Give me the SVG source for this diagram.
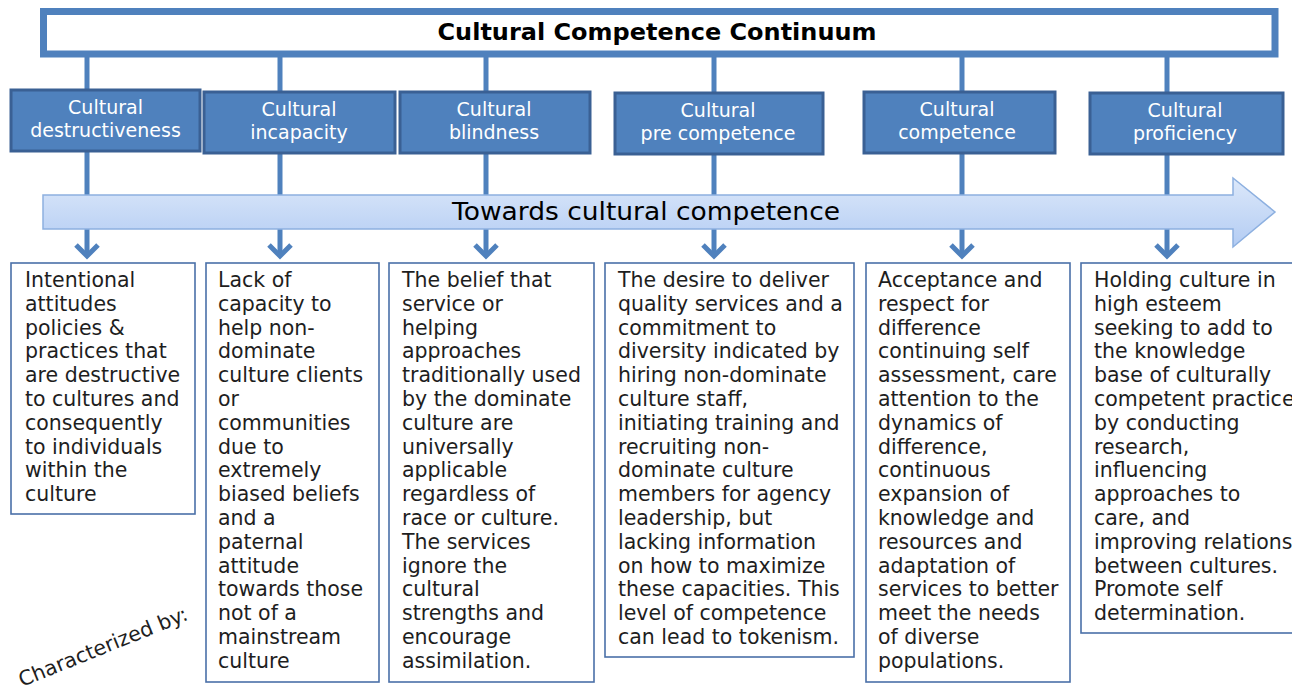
<svg xmlns="http://www.w3.org/2000/svg" width="1292" height="693" viewBox="0 0 1292 693">
<style>
text{font-family:"DejaVu Sans","Liberation Sans",sans-serif}
.conn{stroke:#4F81BD;stroke-width:5;fill:none}
.stage rect{fill:#4F81BD;stroke:#3A6094;stroke-width:3}
.stage text{fill:#FFFFFF;font-size:19px;text-anchor:middle}
.desc rect{fill:#FFFFFF;stroke:#4A70A8;stroke-width:1.6}
.desc text{fill:#1E1E1E;font-size:20.5px}
</style>
<defs>
<linearGradient id="ag" x1="0" y1="0" x2="0" y2="1">
<stop offset="0" stop-color="#DCE8FA"/>
<stop offset="1" stop-color="#B3CCF3"/>
</linearGradient>
<marker id="chev" markerUnits="userSpaceOnUse" markerWidth="30" markerHeight="30" refX="0" refY="0" orient="auto" overflow="visible">
<path d="M-11,-11 L0,0 L-11,11" fill="none" stroke="#4F81BD" stroke-width="5"/>
</marker>
</defs>
<rect width="1292" height="693" fill="#FFFFFF"/>

<g id="connectors">
<line class="conn" x1="87" y1="55" x2="87" y2="256" marker-end="url(#chev)"/>
<line class="conn" x1="280" y1="55" x2="280" y2="256" marker-end="url(#chev)"/>
<line class="conn" x1="486" y1="55" x2="486" y2="256" marker-end="url(#chev)"/>
<line class="conn" x1="714" y1="55" x2="714" y2="256" marker-end="url(#chev)"/>
<line class="conn" x1="962" y1="55" x2="962" y2="256" marker-end="url(#chev)"/>
<line class="conn" x1="1167" y1="55" x2="1167" y2="256" marker-end="url(#chev)"/>
</g>

<g id="title">
<rect x="43.5" y="11.5" width="1231.5" height="42.5" fill="#FFFFFF" stroke="#4F81BD" stroke-width="7"/>
<text x="657" y="40" font-size="23" font-weight="bold" fill="#000000" text-anchor="middle" textLength="439" lengthAdjust="spacingAndGlyphs">Cultural Competence Continuum</text>
</g>

<g id="arrow">
<path d="M43,195 H1233 V178 L1275,212 L1233,247 V229 H43 Z" fill="url(#ag)" stroke="#8DB0E0" stroke-width="1.5"/>
<text x="646" y="220" font-size="24" fill="#000000" text-anchor="middle" textLength="388" lengthAdjust="spacingAndGlyphs">Towards cultural competence</text>
</g>

<g id="stage1" class="stage"><rect x="11" y="90" width="189" height="61"/><text x="105.5" y="114">Cultural</text><text x="105.5" y="137">destructiveness</text></g>
<g id="stage2" class="stage"><rect x="204" y="92" width="191" height="61"/><text x="299" y="116">Cultural</text><text x="299" y="139">incapacity</text></g>
<g id="stage3" class="stage"><rect x="400" y="92" width="190" height="61"/><text x="494" y="116">Cultural</text><text x="494" y="139">blindness</text></g>
<g id="stage4" class="stage"><rect x="615" y="93" width="208" height="61"/><text x="718" y="117">Cultural</text><text x="718" y="140">pre competence</text></g>
<g id="stage5" class="stage"><rect x="864" y="92" width="191" height="61"/><text x="957" y="116">Cultural</text><text x="957" y="139">competence</text></g>
<g id="stage6" class="stage"><rect x="1090" y="93" width="193" height="61"/><text x="1185" y="117">Cultural</text><text x="1185" y="140">proficiency</text></g>

<g id="desc1" class="desc"><rect x="11" y="263" width="184" height="251"/>
<text x="25" y="287"><tspan x="25">Intentional</tspan><tspan x="25" dy="23.8">attitudes</tspan><tspan x="25" dy="23.8">policies &amp;</tspan><tspan x="25" dy="23.8">practices that</tspan><tspan x="25" dy="23.8">are destructive</tspan><tspan x="25" dy="23.8">to cultures and</tspan><tspan x="25" dy="23.8">consequently</tspan><tspan x="25" dy="23.8">to individuals</tspan><tspan x="25" dy="23.8">within the</tspan><tspan x="25" dy="23.8">culture</tspan></text></g>

<g id="desc2" class="desc"><rect x="206" y="263" width="173" height="419"/>
<text x="218" y="287"><tspan x="218">Lack of</tspan><tspan x="218" dy="23.8">capacity to</tspan><tspan x="218" dy="23.8">help non-</tspan><tspan x="218" dy="23.8">dominate</tspan><tspan x="218" dy="23.8">culture clients</tspan><tspan x="218" dy="23.8">or</tspan><tspan x="218" dy="23.8">communities</tspan><tspan x="218" dy="23.8">due to</tspan><tspan x="218" dy="23.8">extremely</tspan><tspan x="218" dy="23.8">biased beliefs</tspan><tspan x="218" dy="23.8">and a</tspan><tspan x="218" dy="23.8">paternal</tspan><tspan x="218" dy="23.8">attitude</tspan><tspan x="218" dy="23.8">towards those</tspan><tspan x="218" dy="23.8">not of a</tspan><tspan x="218" dy="23.8">mainstream</tspan><tspan x="218" dy="23.8">culture</tspan></text></g>

<g id="desc3" class="desc"><rect x="389" y="263" width="205" height="419"/>
<text x="402" y="287"><tspan x="402">The belief that</tspan><tspan x="402" dy="23.8">service or</tspan><tspan x="402" dy="23.8">helping</tspan><tspan x="402" dy="23.8">approaches</tspan><tspan x="402" dy="23.8">traditionally used</tspan><tspan x="402" dy="23.8">by the dominate</tspan><tspan x="402" dy="23.8">culture are</tspan><tspan x="402" dy="23.8">universally</tspan><tspan x="402" dy="23.8">applicable</tspan><tspan x="402" dy="23.8">regardless of</tspan><tspan x="402" dy="23.8">race or culture.</tspan><tspan x="402" dy="23.8">The services</tspan><tspan x="402" dy="23.8">ignore the</tspan><tspan x="402" dy="23.8">cultural</tspan><tspan x="402" dy="23.8">strengths and</tspan><tspan x="402" dy="23.8">encourage</tspan><tspan x="402" dy="23.8">assimilation.</tspan></text></g>

<g id="desc4" class="desc"><rect x="605" y="263" width="249" height="394"/>
<text x="618" y="287"><tspan x="618">The desire to deliver</tspan><tspan x="618" dy="23.8">quality services and a</tspan><tspan x="618" dy="23.8">commitment to</tspan><tspan x="618" dy="23.8">diversity indicated by</tspan><tspan x="618" dy="23.8">hiring non-dominate</tspan><tspan x="618" dy="23.8">culture staff,</tspan><tspan x="618" dy="23.8">initiating training and</tspan><tspan x="618" dy="23.8">recruiting non-</tspan><tspan x="618" dy="23.8">dominate culture</tspan><tspan x="618" dy="23.8">members for agency</tspan><tspan x="618" dy="23.8">leadership, but</tspan><tspan x="618" dy="23.8">lacking information</tspan><tspan x="618" dy="23.8">on how to maximize</tspan><tspan x="618" dy="23.8">these capacities. This</tspan><tspan x="618" dy="23.8">level of competence</tspan><tspan x="618" dy="23.8">can lead to tokenism.</tspan></text></g>

<g id="desc5" class="desc"><rect x="866" y="263" width="204" height="419"/>
<text x="878" y="287"><tspan x="878">Acceptance and</tspan><tspan x="878" dy="23.8">respect for</tspan><tspan x="878" dy="23.8">difference</tspan><tspan x="878" dy="23.8">continuing self</tspan><tspan x="878" dy="23.8">assessment, care</tspan><tspan x="878" dy="23.8">attention to the</tspan><tspan x="878" dy="23.8">dynamics of</tspan><tspan x="878" dy="23.8">difference,</tspan><tspan x="878" dy="23.8">continuous</tspan><tspan x="878" dy="23.8">expansion of</tspan><tspan x="878" dy="23.8">knowledge and</tspan><tspan x="878" dy="23.8">resources and</tspan><tspan x="878" dy="23.8">adaptation of</tspan><tspan x="878" dy="23.8">services to better</tspan><tspan x="878" dy="23.8">meet the needs</tspan><tspan x="878" dy="23.8">of diverse</tspan><tspan x="878" dy="23.8">populations.</tspan></text></g>

<g id="desc6" class="desc"><rect x="1081" y="263" width="220" height="370"/>
<text x="1094" y="287"><tspan x="1094">Holding culture in</tspan><tspan x="1094" dy="23.8">high esteem</tspan><tspan x="1094" dy="23.8">seeking to add to</tspan><tspan x="1094" dy="23.8">the knowledge</tspan><tspan x="1094" dy="23.8">base of culturally</tspan><tspan x="1094" dy="23.8">competent practice</tspan><tspan x="1094" dy="23.8">by conducting</tspan><tspan x="1094" dy="23.8">research,</tspan><tspan x="1094" dy="23.8">influencing</tspan><tspan x="1094" dy="23.8">approaches to</tspan><tspan x="1094" dy="23.8">care, and</tspan><tspan x="1094" dy="23.8">improving relations</tspan><tspan x="1094" dy="23.8">between cultures.</tspan><tspan x="1094" dy="23.8">Promote self</tspan><tspan x="1094" dy="23.8">determination.</tspan></text></g>

<g id="characterized">
<text x="22" y="687" font-size="20.5" fill="#1E1E1E" transform="rotate(-22 22 687)">Characterized by:</text>
</g>
</svg>
